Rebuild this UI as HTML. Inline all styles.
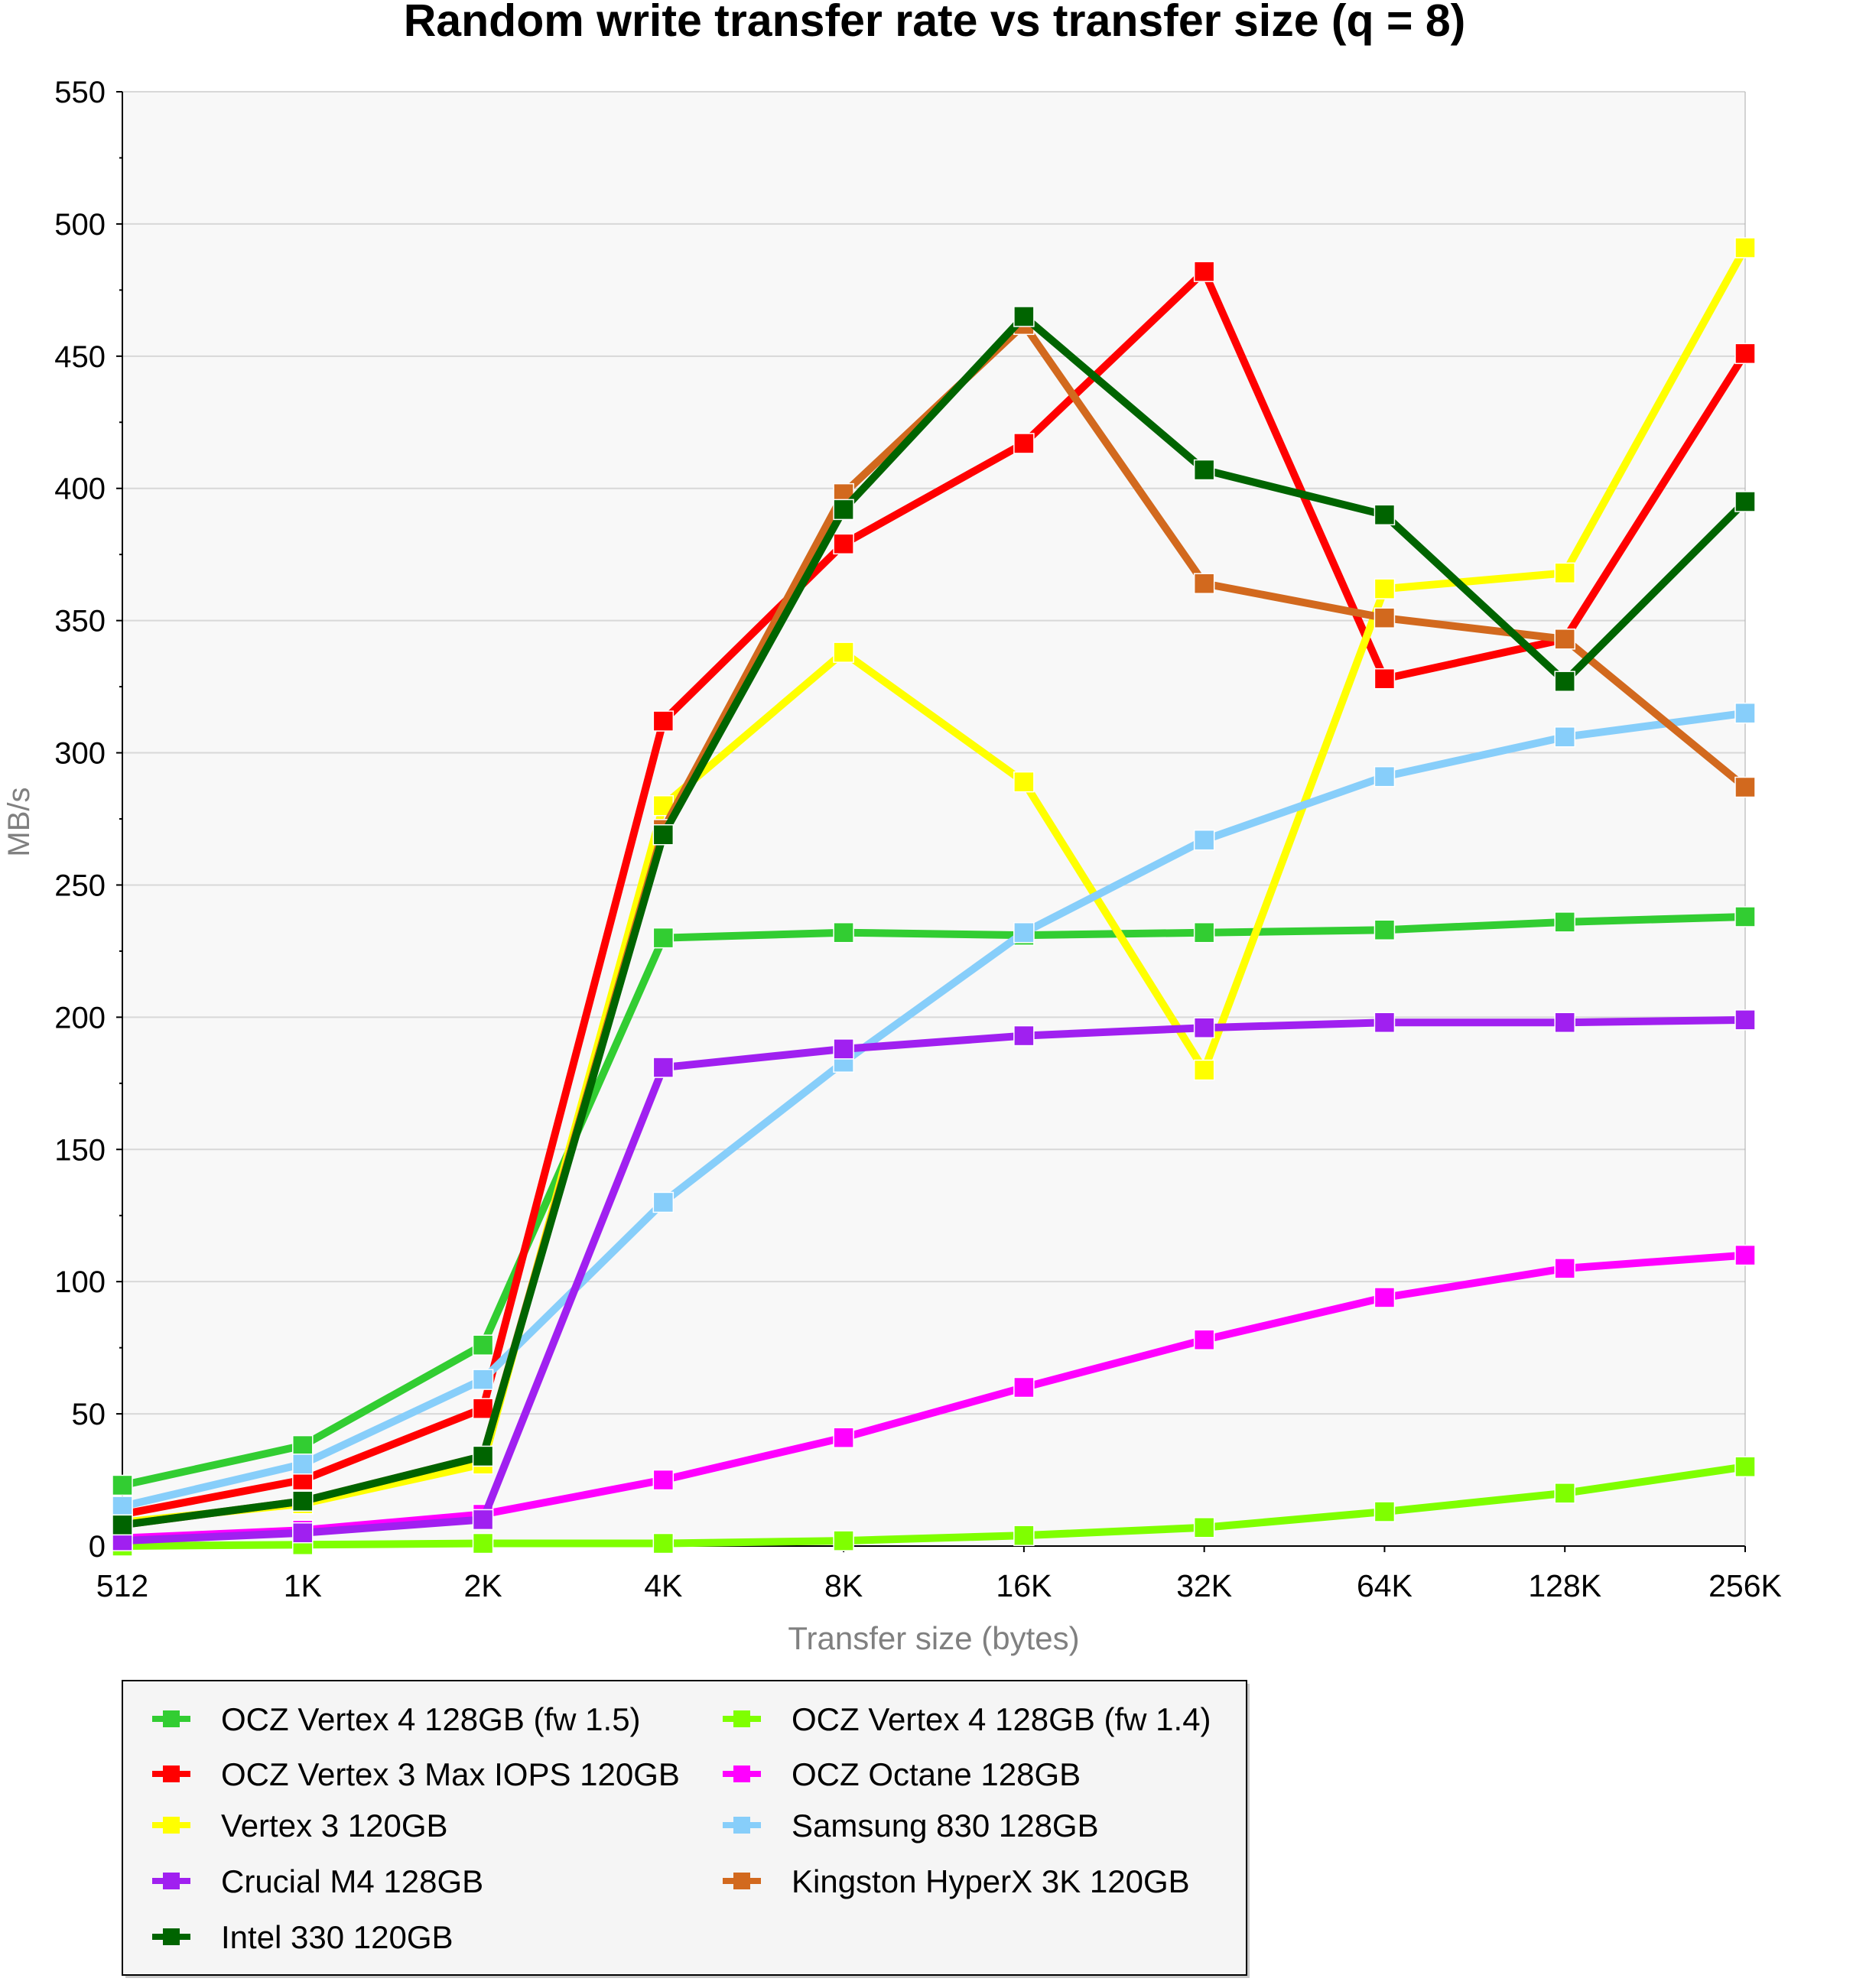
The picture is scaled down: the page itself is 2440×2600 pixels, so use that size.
<!DOCTYPE html>
<html><head><meta charset="utf-8"><style>
html,body{margin:0;padding:0;background:#fff;}
svg{display:block;font-family:"Liberation Sans",sans-serif;}
</style></head><body>
<svg id="s" width="2440" height="2600" viewBox="0 0 2440 2600" xmlns="http://www.w3.org/2000/svg">
<rect width="2440" height="2600" fill="#fff"/>
<text x="1222" y="47" font-size="59" font-weight="bold" text-anchor="middle" fill="#000">Random write transfer rate vs transfer size (q = 8)</text>
<rect x="160" y="120" width="2122" height="1902" fill="#f8f8f8"/>
<g id="grid"></g>
<g id="series"></g>
<text x="1221" y="2157" font-size="42" text-anchor="middle" fill="#808080">Transfer size (bytes)</text>
<text transform="translate(38,1075) rotate(-90)" font-size="40" text-anchor="middle" fill="#808080">MB/s</text>
<rect x="164" y="2202" width="1470" height="385" fill="#c8c8c8"/>
<rect x="160" y="2198" width="1470" height="385" fill="#f5f5f5" stroke="#000" stroke-width="2"/>
<g id="leg"></g>
</svg>
<script>
var NS="http://www.w3.org/2000/svg";
function el(p,t,a,txt){var e=document.createElementNS(NS,t);for(var k in a)e.setAttribute(k,a[k]);if(txt!=null)e.textContent=txt;p.appendChild(e);return e;}
var L=160,R=2282,T=120,B=2022;
function X(i){return L+(R-L)*i/9;}
function Y(v){return B-(B-T)*v/550;}
var g=document.getElementById('grid');
for(var v=0;v<=550;v+=50){var y=Y(v);
 if(v>0)el(g,'line',{x1:L,x2:R,y1:y,y2:y,stroke:'#d8d8d8','stroke-width':2});
 el(g,'line',{x1:L-8,x2:L,y1:y,y2:y,stroke:'#000','stroke-width':2});
 el(g,'text',{x:L-22,y:y+14,'font-size':40,'text-anchor':'end',fill:'#000'},v);}
for(var v=25;v<550;v+=50){var y=Y(v);el(g,'line',{x1:L-4,x2:L,y1:y,y2:y,stroke:'#000','stroke-width':2});}
var xl=['512','1K','2K','4K','8K','16K','32K','64K','128K','256K'];
for(var i=0;i<10;i++){el(g,'line',{x1:X(i),x2:X(i),y1:B,y2:B+8,stroke:'#000','stroke-width':2});
 el(g,'text',{x:X(i),y:B+66,'font-size':41,'text-anchor':'middle',fill:'#000'},xl[i]);}
el(g,'line',{x1:L,x2:L,y1:T,y2:B,stroke:'#000','stroke-width':2});
el(g,'line',{x1:L,x2:R,y1:B,y2:B,stroke:'#000','stroke-width':2});
el(g,'line',{x1:R,x2:R,y1:T,y2:B,stroke:'#aaa','stroke-width':1});
var S=[
['#32cd32',[23,38,76,230,232,231,232,233,236,238]],
['#7fff00',[0,0.5,1,1,2,4,7,13,20,30]],
['#ff0000',[12,25,52,312,379,417,482,328,343,451]],
['#ff00ff',[3,6,12,25,41,60,78,94,105,110]],
['#ffff00',[9,16,31,280,338,289,180,362,368,491]],
['#87cefa',[15,31,63,130,183,232,267,291,306,315]],
['#a020f0',[2,5,10,181,188,193,196,198,198,199]],
['#d2691e',[8,17,34,271,398,462,364,351,343,287]],
['#006400',[8,17,34,269,392,465,407,390,327,395]]];
var sg=document.getElementById('series');
S.forEach(function(s){var pts=s[1].map(function(v,i){return X(i)+','+Y(v);}).join(' ');
 el(sg,'polyline',{points:pts,fill:'none',stroke:s[0],'stroke-width':10,'stroke-linejoin':'miter'});
 s[1].forEach(function(v,i){el(sg,'rect',{x:X(i)-13,y:Y(v)-13,width:26,height:26,fill:s[0],stroke:'#fff','stroke-width':1.5});});});
var lg=document.getElementById('leg');
var items=[['#32cd32','OCZ Vertex 4 128GB (fw 1.5)',0,0],['#ff0000','OCZ Vertex 3 Max IOPS 120GB',0,1],['#ffff00','Vertex 3 120GB',0,2],['#a020f0','Crucial M4 128GB',0,3],['#006400','Intel 330 120GB',0,4],
['#7fff00','OCZ Vertex 4 128GB (fw 1.4)',1,0],['#ff00ff','OCZ Octane 128GB',1,1],['#87cefa','Samsung 830 128GB',1,2],['#d2691e','Kingston HyperX 3K 120GB',1,3]];
var ry=[2248,2320,2387,2460,2533];
items.forEach(function(it){var mx=it[2]?970:224,y=ry[it[3]];
 el(lg,'rect',{x:mx-25,y:y-4,width:50,height:8,fill:it[0]});
 el(lg,'rect',{x:mx-11,y:y-11,width:22,height:22,fill:it[0]});
 el(lg,'text',{x:it[2]?1035:289,y:y+15,'font-size':42,fill:'#000'},it[1]);});
</script>
</body></html>
